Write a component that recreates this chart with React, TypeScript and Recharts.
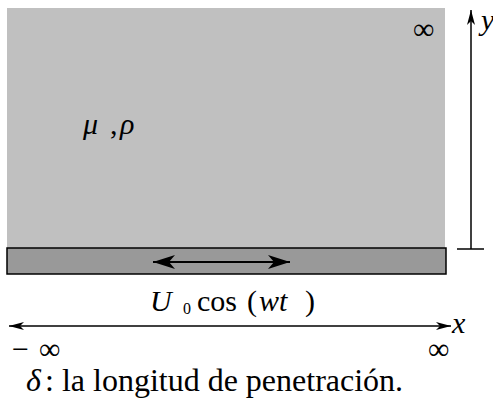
import React from 'react';
import { ComposedChart, XAxis, YAxis, ReferenceArea, ReferenceLine, ReferenceDot } from 'recharts';

// diagram units = page pixels (x to the right, y downwards)
const regionNames = ['fluido', 'placa'];
const regionX = [[7, 445], [7, 446]];
const regionY = [[8, 248], [248, 274]];
const regionFill = ['#c0c0c0', '#999999'];

const arrowNames = ['placa', 'ejeX', 'ejeY'];
const arrowFrom = [[153, 262], [9, 326], [471, 249]];
const arrowTo = [[290, 262], [451, 326], [471, 10]];
const arrowBoth = [true, true, false];

const labelNames = ['infTop', 'props', 'vel', 'xLab', 'yLab', 'minusInf', 'plusInf', 'delta'];
const labelX = [413, 83, 150, 452, 481, 12, 428, 26];
const labelY = [39, 134, 311, 333, 30, 359, 359, 391];

// label pieces: [text, offset x, offset y, size, italic]
const labelParts: Record<string, [string, number, number, number, boolean][]> = {
  infTop: [['∞', 0, 0, 30, false]],
  plusInf: [['∞', 0, 0, 30, false]],
  props: [['μ', 0, 0, 30, true], [',', 27, 0, 30, false], ['ρ', 37, 0, 30, true]],
  vel: [['U', 0, 0, 30, true], ['0', 33, 3, 16, false], ['cos', 47, 0, 30, false], ['(', 97, 0, 30, false], ['wt', 109, 0, 30, true], [')', 155, 0, 30, false]],
  xLab: [['x', 0, 0, 30, true]],
  yLab: [['y', 0, 0, 30, true]],
  minusInf: [['−', 0, 0, 30, false], ['∞', 27, 0, 30, false]],
  delta: [['δ', 0, 0, 32, true], [': la longitud de penetración.', 19, 0, 32, false]],
};

const FONT = 'Liberation Serif';

const head = (tx: number, ty: number, dx: number, dy: number, L: number, W: number, n: number) => {
  const bx = tx - dx * L, by = ty - dy * L;
  const nx = tx - dx * (L - n), ny = ty - dy * (L - n);
  return `M${tx},${ty} L${bx - dy * W},${by + dx * W} L${nx},${ny} L${bx + dy * W},${by - dx * W} Z`;
};

const arrowShape = (both: boolean, big: boolean) => (p: any) => {
  const { x1, y1, x2, y2 } = p;
  const len = Math.hypot(x2 - x1, y2 - y1) || 1;
  const dx = (x2 - x1) / len, dy = (y2 - y1) / len;
  const L = big ? 22 : 15, W = big ? 7 : 4, n = big ? 6 : 4;
  return (
    <g>
      <line x1={x1} y1={y1} x2={x2} y2={y2} stroke="#000" strokeWidth={big ? 2 : 1.5} />
      <path d={head(x2, y2, dx, dy, L, W, n)} fill="#000" />
      {both && <path d={head(x1, y1, -dx, -dy, L, W, n)} fill="#000" />}
    </g>
  );
};

const labelContent = (name: string) => (props: any) => {
  const vb = props.viewBox || {};
  const x0 = (vb.x ?? 0) + (vb.width ?? 0) / 2;
  const y0 = (vb.y ?? 0) + (vb.height ?? 0) / 2;
  return (
    <g>
      {labelParts[name].map(([t, ox, oy, size, it], k) => (
        <text
          key={k}
          x={x0 + ox}
          y={y0 + oy}
          fontSize={size}
          fontFamily={FONT}
          fontStyle={it ? 'italic' : undefined}
          fill="#000"
        >
          {t}
        </text>
      ))}
    </g>
  );
};

export default function App() {
  return (
    <div style={{ position: 'absolute', left: 0, top: 0, background: '#fff' }}>
      <ComposedChart width={493} height={417} margin={{ top: 0, right: 0, bottom: 0, left: 0 }}>
        <XAxis type="number" dataKey="x" domain={[0, 493]} hide allowDataOverflow />
        <YAxis type="number" dataKey="y" domain={[0, 417]} reversed hide allowDataOverflow />
        {regionNames.map((r, i) => (
          <ReferenceArea
            key={r}
            x1={regionX[i][0]}
            x2={regionX[i][1]}
            y1={regionY[i][0]}
            y2={regionY[i][1]}
            fill={regionFill[i]}
            fillOpacity={1}
            stroke={r === 'placa' ? '#000' : 'none'}
            strokeWidth={1.5}
            ifOverflow="visible"
          />
        ))}
        <ReferenceLine
          segment={[{ x: 457, y: 249 }, { x: 484, y: 249 }]}
          stroke="#000"
          strokeWidth={1.5}
          ifOverflow="visible"
        />
        {arrowNames.map((a, i) => (
          <ReferenceLine
            key={a}
            segment={[{ x: arrowFrom[i][0], y: arrowFrom[i][1] }, { x: arrowTo[i][0], y: arrowTo[i][1] }]}
            shape={arrowShape(arrowBoth[i], a === 'placa')}
            ifOverflow="visible"
          />
        ))}
        {labelNames.map((name, i) => (
          <ReferenceDot
            key={name}
            x={labelX[i]}
            y={labelY[i]}
            r={0}
            fill="none"
            stroke="none"
            ifOverflow="visible"
            label={{ content: labelContent(name) }}
          />
        ))}
      </ComposedChart>
    </div>
  );
}
